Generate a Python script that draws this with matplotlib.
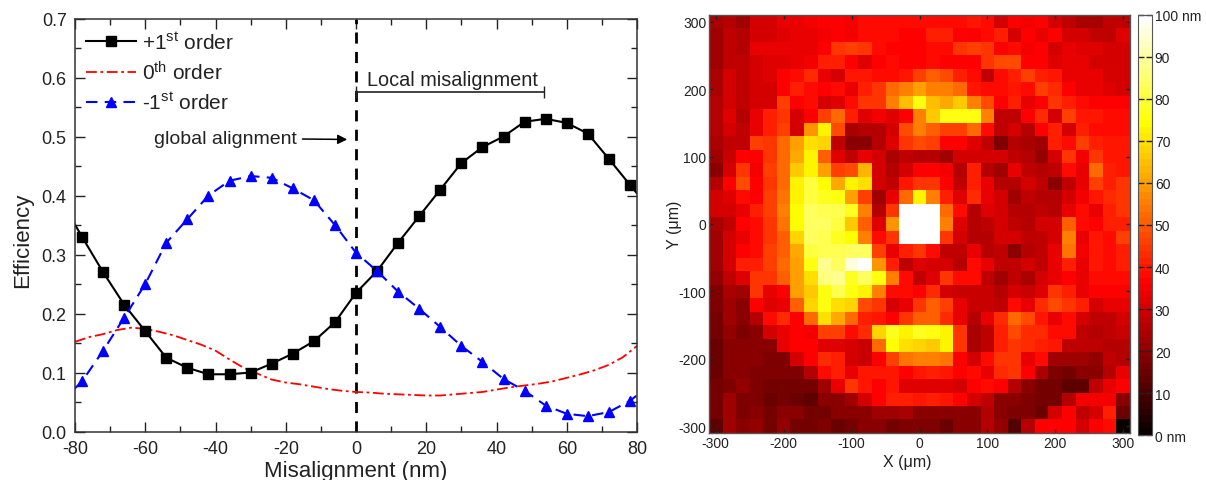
import numpy as np
from matplotlib import pyplot as plt

plt.rcParams['font.family'] = ['Liberation Sans', 'DejaVu Sans']
plt.rcParams['mathtext.default'] = 'regular'
plt.rcParams['axes.unicode_minus'] = False

# efficiency curves
x_marked = [-84, -78, -72, -66, -60, -54, -48, -42, -36, -30, -24, -18, -12, -6, 0, 6, 12, 18, 24, 30, 36, 42, 48, 54, 60, 66, 72, 78, 84]
plus_first = [.392, .33, .27, .215, .17, .125, .108, .097, .097, .100, .115, .132, .153, .185, .235, .272, .32, .365, .41, .455, .482, .50, .525, .53, .523, .505, .462, .418, .375]
minus_first = [.05, .085, .137, .193, .25, .32, .36, .40, .425, .433, .43, .412, .392, .35, .303, .272, .237, .208, .177, .145, .118, .089, .069, .044, .03, .026, .033, .052, .08]
x_zero = [-80, -76, -72, -68, -64, -60, -56, -52, -48, -44, -40, -36, -32, -28, -24, -20, -16, -12, -8, -4, 0, 4, 8, 12, 16, 20, 24, 28, 32, 36, 40, 44, 48, 52, 56, 60, 64, 68, 72, 76, 80]
zero_order = [.152, .16, .165, .172, .176, .174, .169, .163, .155, .147, .137, .122, .108, .098, .088, .083, .08, .076, .072, .069, .067, .066, .064, .063, .062, .061, .061, .063, .065, .067, .071, .075, .078, .081, .085, .091, .097, .104, .113, .126, .145]

# misalignment map in nm, top row first
map_rows = [
    [24, 26, 22, 30, 30, 33, 33, 35, 37, 37, 35, 38, 38, 38, 38, 38, 38, 38, 38, 40, 38, 30, 37, 35, 36, 30, 28, 24, 24, 28, 28],
    [23, 28, 25, 30, 30, 32, 33, 34, 35, 36, 35, 38, 38, 38, 37, 37, 42, 42, 37, 37, 38, 42, 31, 37, 33, 36, 31, 31, 28, 28, 32],
    [23, 28, 26, 34, 34, 33, 33, 34, 37, 44, 46, 44, 38, 36, 36, 36, 38, 38, 44, 46, 44, 37, 39, 35, 37, 31, 33, 32, 32, 30, 31],
    [23, 28, 27, 31, 32, 32, 34, 35, 42, 42, 37, 32, 36, 38, 37, 37, 38, 36, 36, 37, 44, 47, 47, 37, 37, 32, 33, 33, 31, 30, 30],
    [24, 30, 27, 31, 32, 37, 38, 43, 34, 30, 40, 40, 38, 38, 40, 46, 50, 48, 42, 38, 28, 38, 41, 46, 42, 40, 34, 33, 33, 30, 31],
    [24, 31, 27, 31, 31, 36, 42, 39, 36, 38, 33, 42, 44, 52, 55, 60, 56, 55, 52, 40, 38, 38, 40, 38, 46, 43, 36, 34, 33, 32, 31],
    [26, 31, 27, 31, 30, 46, 37, 38, 30, 32, 38, 44, 45, 55, 65, 75, 65, 62, 66, 56, 48, 37, 42, 34, 37, 44, 41, 38, 37, 36, 36],
    [26, 32, 25, 33, 42, 44, 31, 37, 46, 52, 42, 32, 35, 32, 36, 56, 66, 75, 75, 75, 55, 27, 27, 37, 43, 30, 46, 40, 40, 39, 38],
    [26, 30, 28, 33, 42, 46, 31, 58, 72, 48, 24, 26, 25, 31, 48, 55, 50, 46, 46, 53, 38, 27, 30, 25, 37, 42, 31, 42, 39, 38, 38],
    [24, 28, 27, 46, 44, 52, 60, 70, 68, 27, 20, 20, 25, 32, 45, 47, 46, 37, 36, 32, 27, 18, 26, 24, 23, 42, 38, 46, 41, 40, 40],
    [22, 29, 36, 36, 44, 52, 62, 73, 50, 32, 27, 33, 30, 24, 28, 26, 26, 23, 30, 31, 31, 31, 28, 26, 21, 31, 44, 35, 44, 40, 40],
    [20, 30, 44, 35, 46, 52, 66, 72, 60, 46, 48, 63, 30, 25, 30, 36, 37, 35, 26, 42, 25, 23, 33, 28, 26, 27, 38, 33, 52, 41, 40],
    [25, 37, 47, 36, 44, 52, 73, 80, 74, 62, 72, 70, 30, 28, 40, 44, 44, 37, 27, 42, 34, 26, 26, 30, 28, 20, 28, 33, 46, 41, 44],
    [30, 32, 38, 37, 46, 54, 73, 80, 78, 75, 60, 46, 22, 34, 52, 72, 55, 42, 32, 43, 33, 30, 22, 27, 26, 25, 31, 35, 40, 43, 44],
    [30, 31, 33, 42, 46, 56, 74, 84, 82, 82, 78, 56, 26, 44, 100, 100, 100, 52, 38, 26, 32, 30, 26, 26, 27, 26, 33, 38, 33, 42, 44],
    [24, 28, 36, 38, 44, 54, 74, 84, 84, 80, 66, 50, 32, 58, 100, 100, 100, 55, 32, 26, 28, 30, 28, 26, 30, 31, 50, 38, 37, 42, 42],
    [22, 30, 33, 38, 44, 50, 68, 84, 82, 78, 74, 55, 38, 44, 100, 100, 100, 44, 30, 26, 26, 30, 30, 27, 28, 31, 56, 33, 40, 38, 46],
    [23, 30, 37, 38, 46, 50, 62, 80, 82, 82, 84, 84, 46, 34, 42, 44, 38, 28, 28, 33, 26, 28, 20, 26, 27, 33, 54, 35, 40, 38, 42],
    [23, 30, 42, 42, 46, 52, 60, 76, 88, 84, 96, 100, 58, 42, 28, 32, 30, 30, 25, 38, 34, 28, 28, 30, 27, 33, 42, 34, 40, 38, 41],
    [21, 28, 32, 44, 44, 50, 60, 70, 86, 88, 78, 84, 76, 56, 38, 27, 32, 44, 38, 38, 28, 22, 28, 24, 30, 33, 37, 34, 38, 38, 38],
    [18, 24, 22, 44, 33, 36, 60, 66, 76, 82, 76, 72, 56, 38, 38, 36, 43, 30, 29, 29, 29, 25, 30, 29, 32, 44, 42, 34, 37, 37, 37],
    [18, 22, 20, 37, 32, 33, 50, 68, 75, 70, 68, 48, 44, 30, 34, 44, 50, 46, 33, 29, 29, 27, 38, 34, 43, 48, 45, 42, 30, 34, 33],
    [17, 22, 20, 25, 38, 43, 37, 52, 70, 62, 52, 42, 40, 37, 44, 50, 50, 43, 33, 26, 33, 43, 52, 48, 40, 33, 38, 30, 28, 27, 31],
    [17, 21, 18, 20, 30, 34, 37, 35, 46, 46, 38, 43, 68, 78, 72, 78, 76, 73, 44, 24, 28, 42, 48, 43, 43, 38, 38, 27, 26, 28, 29],
    [15, 20, 20, 20, 20, 33, 37, 37, 32, 32, 30, 29, 52, 74, 70, 68, 66, 73, 44, 24, 28, 42, 44, 43, 42, 40, 28, 27, 27, 25, 26],
    [15, 20, 20, 20, 18, 18, 30, 37, 43, 42, 30, 29, 36, 46, 54, 56, 56, 54, 36, 30, 38, 44, 44, 34, 38, 22, 22, 22, 21, 27, 25],
    [15, 19, 19, 18, 18, 18, 18, 25, 38, 42, 33, 40, 40, 40, 36, 40, 42, 40, 36, 38, 34, 43, 44, 37, 24, 18, 16, 20, 20, 25, 34],
    [17, 18, 21, 18, 16, 16, 17, 17, 22, 33, 44, 40, 37, 40, 32, 32, 32, 32, 31, 37, 39, 37, 26, 20, 17, 16, 14, 14, 28, 34, 37],
    [17, 22, 18, 18, 15, 16, 15, 13, 20, 20, 22, 30, 37, 41, 42, 40, 42, 40, 37, 31, 28, 20, 19, 18, 16, 16, 26, 35, 35, 35, 20],
    [17, 23, 18, 20, 16, 20, 20, 17, 17, 19, 19, 20, 22, 22, 24, 20, 20, 20, 20, 20, 26, 19, 18, 18, 15, 30, 36, 28, 30, 42, 15],
    [13, 22, 20, 21, 16, 21, 16, 17, 18, 15, 17, 20, 20, 17, 18, 18, 18, 15, 20, 20, 25, 21, 12, 26, 37, 36, 36, 30, 37, 39, 0],
]
cbar_ticks = [0, 10, 20, 30, 40, 50, 60, 70, 80, 90, 100]
cbar_labels = ['0 nm', '10', '20', '30', '40', '50', '60', '70', '80', '90', '100 nm']

W, H = 1206, 481
fig = plt.figure(figsize=(W / 100, H / 100), dpi=100)


def px_axes(left, top, right, bottom):
    return fig.add_axes([left / W, 1 - bottom / H, (right - left) / W, (bottom - top) / H])


ax = px_axes(75, 19.5, 637, 432.5)
ax.axvline(0, color='black', ls=(0, (4, 3)), lw=2)
ax.plot(x_zero, zero_order, color='red', ls=(0, (6, 2, 1.5, 2)), lw=1.3, label='0$^{th}$ order')
ax.plot(x_marked, plus_first, color='black', lw=1.5, marker='s', ms=6.5, label='+1$^{st}$ order')
ax.plot(x_marked, minus_first, color='blue', ls=(0, (5.5, 3.5)), lw=1.5, marker='^', ms=6.5, label='-1$^{st}$ order')
ax.set_xlim(-80, 80)
ax.set_ylim(0, 0.7)
ax.set_xticks(np.arange(-80, 81, 20))
ax.set_xticks(np.arange(-70, 80, 20), minor=True)
ax.set_yticks(np.arange(0, 0.71, 0.1))
ax.set_yticks(np.arange(0.05, 0.7, 0.1), minor=True)
ax.tick_params(which='major', direction='in', top=True, right=True, length=7, width=1, labelsize=13, pad=6, colors='#222222')
ax.tick_params(which='minor', direction='in', top=True, right=True, length=4, width=1, colors='#222222')
for s in ax.spines.values():
    s.set_linewidth(1.1)
    s.set_color('#333333')
ax.set_xlabel('Misalignment (nm)', fontsize=16, labelpad=2, color='#222222')
ax.set_ylabel('Efficiency', fontsize=16, labelpad=6, color='#222222', y=0.466)

handles, labels = ax.get_legend_handles_labels()
order = [1, 0, 2]
ax.legend([handles[i] for i in order], [labels[i] for i in order], loc='upper left', bbox_to_anchor=(-0.006, 1.005),
          frameon=False, fontsize=15, labelspacing=0.38, handlelength=2.4, handletextpad=0.3, borderpad=0.2, labelcolor='#222222')

ax.text(3, 0.597, 'Local misalignment', fontsize=14.3, color='#222222', va='center')
ax.plot([0, 53.5], [0.575, 0.575], color='#222222', lw=1.2, marker='|', ms=9)
ax.annotate('global alignment', xy=(-2.5, 0.495), xytext=(-57.5, 0.497), fontsize=14, color='#222222', va='center',
            arrowprops=dict(arrowstyle='-|>', color='black', lw=1.1, shrinkA=2, shrinkB=0))

ax2 = px_axes(709, 16, 1130, 434)
im = ax2.imshow(np.array(map_rows), cmap=plt.get_cmap('hot', 64), vmin=0, vmax=100,
                extent=[-310, 310, -310, 310], aspect='auto', interpolation='nearest')
ax2.set_xticks(np.arange(-300, 301, 100))
ax2.set_yticks(np.arange(-300, 301, 100))
ax2.tick_params(direction='in', top=True, right=True, length=3, width=1, labelsize=10, pad=2, colors='#222222')
for s in ax2.spines.values():
    s.set_linewidth(1)
    s.set_color('#555555')
ax2.set_xlabel('X (μm)', fontsize=11.5, labelpad=3, color='#222222', x=0.47)
ax2.set_ylabel('Y (μm)', fontsize=11.5, labelpad=-3, color='#222222')

cax = px_axes(1137.5, 16, 1152, 436)
cbar = fig.colorbar(im, cax=cax)
cbar.set_ticks(cbar_ticks)
cbar.set_ticklabels(cbar_labels)
cax.tick_params(direction='in', left=True, right=True, length=4, width=1, labelsize=10, pad=2, colors='#222222')
cbar.outline.set_edgecolor('#555555')

plt.savefig('out.png', dpi=100)
